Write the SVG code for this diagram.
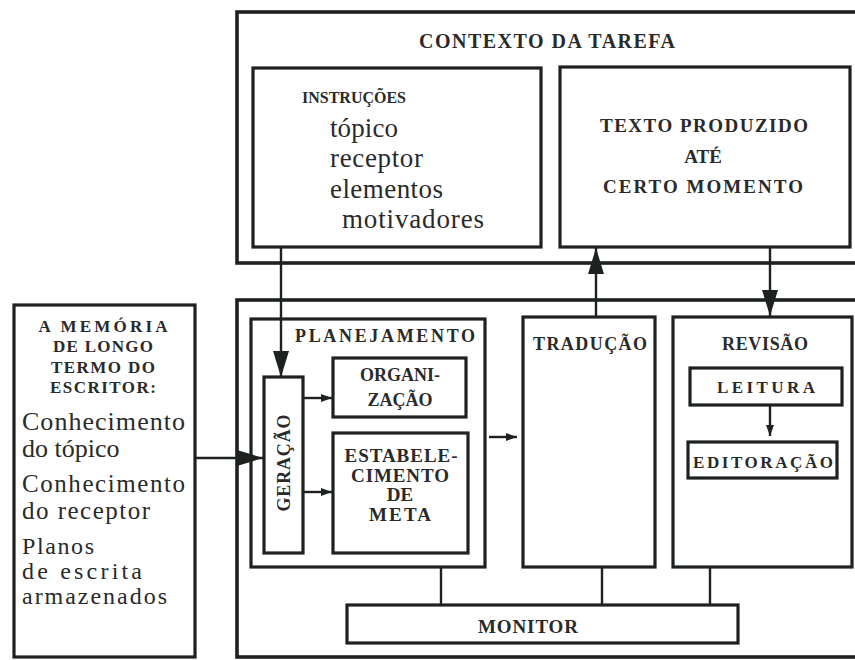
<svg xmlns="http://www.w3.org/2000/svg" width="855" height="660" viewBox="0 0 855 660">
<style>
.box{fill:none;stroke:#1e221f;stroke-width:3.2}
.outer{fill:none;stroke:#1e221f;stroke-width:3.6}
.ln{fill:none;stroke:#1e221f;stroke-width:2.4}
.cap{font-family:"Liberation Serif","Times New Roman",serif;fill:#2a2a2a;font-weight:bold}
.low{font-family:"Liberation Serif","Times New Roman",serif;fill:#2a2a2a}
.mid{text-anchor:middle}
</style>
<defs>
<marker id="big" markerUnits="userSpaceOnUse" markerWidth="28" markerHeight="16" refX="26" refY="8" orient="auto">
<path d="M0,0 L26,8 L0,16 z" fill="#1e221f"/>
</marker>
<marker id="small" markerUnits="userSpaceOnUse" markerWidth="12" markerHeight="8" refX="11" refY="4" orient="auto">
<path d="M0,0 L11,4 L0,8 z" fill="#1e221f"/>
</marker>
</defs>
<rect width="855" height="660" fill="#fff"/>

<g id="contexto">
<rect class="outer" x="237" y="12" width="640" height="251"/>
<text class="cap mid" x="547" y="48" font-size="20" font-weight="normal" textLength="256">CONTEXTO DA TAREFA</text>
</g>

<g id="instrucoes">
<rect class="box" x="253" y="68" width="288" height="179"/>
<text class="cap" x="302" y="103" font-size="17" textLength="104" lengthAdjust="spacingAndGlyphs">INSTRUÇÕES</text>
<text class="low" x="330" y="137" font-size="27" textLength="68">tópico</text>
<text class="low" x="330" y="167" font-size="27" textLength="93">receptor</text>
<text class="low" x="330" y="198" font-size="27" textLength="113">elementos</text>
<text class="low" x="342" y="228" font-size="27" textLength="142">motivadores</text>
</g>

<g id="texto">
<rect class="box" x="560" y="67" width="290" height="180"/>
<text class="cap mid" x="704" y="132" font-size="19" textLength="208">TEXTO  PRODUZIDO</text>
<text class="cap mid" x="703" y="163" font-size="19">ATÉ</text>
<text class="cap mid" x="703" y="193" font-size="19" textLength="200">CERTO MOMENTO</text>
</g>

<g id="memoria">
<rect class="box" x="14" y="305" width="181" height="352"/>
<text class="cap mid" x="103" y="332" font-size="17" textLength="129">A MEMÓRIA</text>
<text class="cap mid" x="103" y="352" font-size="17" textLength="100">DE LONGO</text>
<text class="cap mid" x="103" y="373" font-size="17" textLength="104">TERMO DO</text>
<text class="cap mid" x="103" y="393" font-size="17" textLength="106">ESCRITOR:</text>
<text class="low" x="22" y="430" font-size="26" textLength="163">Conhecimento</text>
<text class="low" x="22" y="457" font-size="26">do tópico</text>
<text class="low" x="22" y="492" font-size="25" textLength="163">Conhecimento</text>
<text class="low" x="22" y="519" font-size="25" textLength="128">do receptor</text>
<text class="low" x="22" y="554" font-size="24" textLength="72">Planos</text>
<text class="low" x="22" y="579" font-size="24" textLength="120">de  escrita</text>
<text class="low" x="22" y="604" font-size="24" textLength="145">armazenados</text>
</g>

<g id="processos">
<rect class="outer" x="237" y="300" width="640" height="357"/>
</g>

<g id="planejamento">
<rect class="box" x="251" y="319" width="234" height="248"/>
<text class="cap mid" x="385" y="342" font-size="18" textLength="180">PLANEJAMENTO</text>
</g>

<g id="geracao">
<rect class="box" x="264" y="377" width="39" height="176"/>
<text class="cap mid" transform="translate(290,463) rotate(-90)" x="0" y="0" font-size="18" textLength="97">GERAÇÃO</text>
</g>

<g id="organizacao">
<rect class="box" x="333" y="358" width="133" height="59"/>
<text class="cap mid" x="400" y="381" font-size="18">ORGANI-</text>
<text class="cap mid" x="400" y="406" font-size="18">ZAÇÃO</text>
</g>

<g id="estabelecimento">
<rect class="box" x="333" y="433" width="135" height="120"/>
<text class="cap mid" x="401" y="462" font-size="19" textLength="113">ESTABELE-</text>
<text class="cap mid" x="400" y="482" font-size="19" textLength="98">CIMENTO</text>
<text class="cap mid" x="400" y="501" font-size="19">DE</text>
<text class="cap mid" x="400" y="521" font-size="19" textLength="62">META</text>
</g>

<g id="traducao">
<rect class="box" x="523" y="317" width="132" height="250"/>
<text class="cap mid" x="590" y="350" font-size="18" textLength="114">TRADUÇÃO</text>
</g>

<g id="revisao">
<rect class="box" x="673" y="317" width="179" height="250"/>
<text class="cap mid" x="765" y="350" font-size="18" textLength="86">REVISÃO</text>
</g>

<g id="leitura">
<rect class="box" x="690" y="368" width="152" height="37"/>
<text class="cap mid" x="766" y="393" font-size="17" textLength="98">LEITURA</text>
</g>

<g id="editoracao">
<rect class="box" x="688" y="442" width="149" height="36"/>
<text class="cap mid" x="763" y="468" font-size="17" textLength="140">EDITORAÇÃO</text>
</g>

<g id="monitor">
<rect class="box" x="347" y="605" width="391" height="38"/>
<text class="cap mid" x="528" y="633" font-size="19" textLength="100">MONITOR</text>
</g>

<g id="connectors">
<path class="ln" d="M281,247 V377" marker-end="url(#big)"/>
<path class="ln" d="M596,317 V248" marker-end="url(#big)"/>
<path class="ln" d="M770,247 V316" marker-end="url(#big)"/>
<path class="ln" d="M195,458 H263" marker-end="url(#big)"/>
<path class="ln" d="M303,398 H332" marker-end="url(#small)"/>
<path class="ln" d="M303,492 H332" marker-end="url(#small)"/>
<path class="ln" d="M489,437 H517" marker-end="url(#small)"/>
<path class="ln" d="M770,405 V436" marker-end="url(#small)"/>
<path class="ln" d="M441,567 V605"/>
<path class="ln" d="M602,567 V605"/>
<path class="ln" d="M710,567 V605"/>
</g>
</svg>
